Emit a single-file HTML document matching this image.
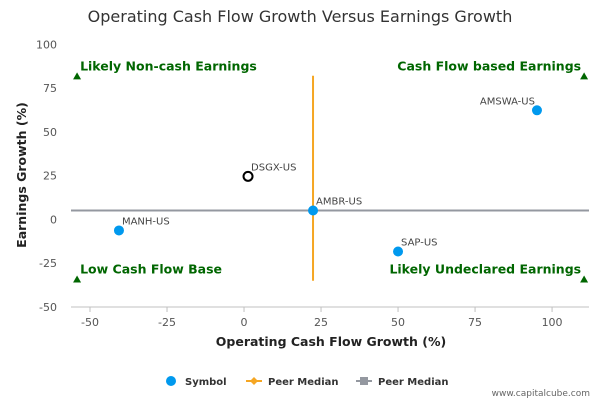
<!DOCTYPE html>
<html><head><meta charset="utf-8"><style>
body{margin:0;background:#fff;}
svg{font-family:"DejaVu Sans","Liberation Sans",sans-serif;}
</style></head><body>
<svg id="chart" width="600" height="400">
<rect width="600" height="400" fill="#fff"/>
<text x="300" y="22" text-anchor="middle" font-size="16" fill="#333">Operating Cash Flow Growth Versus Earnings Growth</text>
<g id="plot"></g>
<text x="331" y="346" text-anchor="middle" font-size="12.5" font-weight="bold" fill="#222">Operating Cash Flow Growth (%)</text>
<text transform="translate(26,175) rotate(-90)" text-anchor="middle" font-size="12.5" font-weight="bold" fill="#222">Earnings Growth (%)</text>
<g font-size="10" font-weight="bold" fill="#333">
<g><circle cx="171" cy="381" r="5" fill="#0099ee"/><text x="185" y="385">Symbol</text></g>
<g><line x1="246" y1="381" x2="262" y2="381" stroke="#f5a623" stroke-width="2"/><path d="M254 377 L258 381 L254 385 L250 381Z" fill="#f5a623"/><text x="268" y="385">Peer Median</text></g>
<g><line x1="356" y1="381" x2="372" y2="381" stroke="#9498a0" stroke-width="2"/><rect x="360" y="377" width="8" height="8" fill="#9498a0"/><text x="378" y="385">Peer Median</text></g>
</g>
<text x="590" y="396" text-anchor="end" font-size="9" fill="#666">www.capitalcube.com</text>
</svg>
<script>
const symbols=["AMSWA-US","DSGX-US","AMBR-US","MANH-US","SAP-US"];
const xVals=[95.1,1.3,22.4,-40.6,50];
const yVals=[62.3,24.6,5.1,-6.3,-18.3];
const highlight=[false,true,false,false,false];
const labelLeft=[true,false,false,false,false];
const medianX=[22.4];
const medianY=[5.1];
const xTicks=[-50,-25,0,25,50,75,100];
const yTicks=[100,75,50,25,0,-25,-50];
const quadLabels=["Likely Non-cash Earnings","Cash Flow based Earnings","Low Cash Flow Base","Likely Undeclared Earnings"];
const quadTop=81.7, quadBottom=-34.3, vTop=82, vBottom=-35;
const xMin=-56.17,xMax=111.99,yMin=-50,yMax=107;
const L=71,R=589,T=32,B=307;
const sx=v=>L+(v-xMin)/(xMax-xMin)*(R-L);
const sy=v=>B-(v-yMin)/(yMax-yMin)*(B-T);
const ns="http://www.w3.org/2000/svg";
const g=document.getElementById('plot');
function mk(t,a,txt){const e=document.createElementNS(ns,t);for(const k in a)e.setAttribute(k,a[k]);if(txt!=null)e.textContent=txt;g.appendChild(e);return e;}
let e=mk('line',{x1:L,y1:B,x2:R,y2:B,stroke:'#c0c0c0'});

xTicks.forEach(t=>{const x=sx(t);let l=mk('line',{x1:x,y1:B,x2:x,y2:B+5,stroke:'#c0c0c0'});

let tx=mk('text',{x:x,y:B+19,'text-anchor':'middle','font-size':11,fill:'#555'},t);
});
yTicks.forEach(t=>{let tx=mk('text',{x:L-14,y:sy(t)+4,'text-anchor':'end','font-size':11,fill:'#555'},t);
});
const xl=-54.2,xr=110.4;
[[xl,quadTop,0,'start'],[xr,quadTop,1,'end'],[xl,quadBottom,2,'start'],[xr,quadBottom,3,'end']].forEach(q=>{
const x=sx(q[0]),y=sy(q[1]);
let p=mk('path',{d:`M${x} ${y-4} L${x+4} ${y+3} L${x-4} ${y+3}Z`,fill:'#006600'});

let tx=mk('text',{x:q[3]=='start'?x+3:x-3,y:y-6,'text-anchor':q[3],'font-size':12.5,'font-weight':'bold',fill:'#006600'},quadLabels[q[2]]);
});
let hm=mk('line',{x1:L,y1:sy(medianY[0]),x2:R,y2:sy(medianY[0]),stroke:'#9498a0','stroke-width':2});

let vm=mk('line',{x1:sx(medianX[0]),y1:sy(vTop),x2:sx(medianX[0]),y2:sy(vBottom),stroke:'#f5a623','stroke-width':2});

symbols.forEach((s,i)=>{const x=sx(xVals[i]),y=sy(yVals[i]);
let c=highlight[i]?mk('circle',{cx:x,cy:y,r:4.5,fill:'#fff',stroke:'#000','stroke-width':2}):mk('circle',{cx:x,cy:y,r:5,fill:'#0099ee'});

let tx=labelLeft[i]?mk('text',{x:x-2,y:y-6,'text-anchor':'end','font-size':10,fill:'#444'},s):mk('text',{x:x+3,y:y-6,'font-size':10,fill:'#444'},s);
});
</script>
</body></html>
